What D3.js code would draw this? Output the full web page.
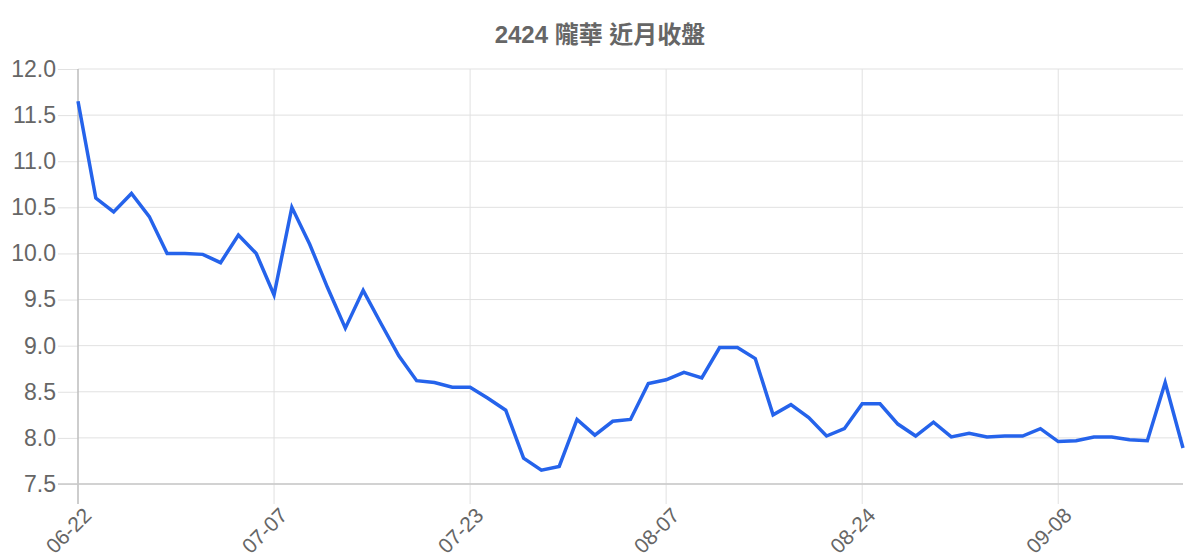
<!DOCTYPE html>
<html>
<head>
<meta charset="utf-8">
<script src="https://cdn.jsdelivr.net/npm/d3@7/dist/d3.min.js"></script>
<style>
  body { margin: 0; background: #fff; }
  svg { display: block; font-family: "Liberation Sans", Arial, "Noto Sans CJK TC", sans-serif; }
</style>
</head>
<body>
<div id="chart"></div>
<script>
var title = '2424 隴華 近月收盤';

var dates = [
  '06-22','06-23','06-24','06-25','06-26','06-29','06-30','07-01','07-02','07-03',
  '07-06','07-07','07-08','07-09','07-10','07-13','07-14','07-15','07-16','07-17',
  '07-20','07-21','07-23','07-24','07-27','07-28','07-29','07-30','07-31','08-03',
  '08-04','08-05','08-06','08-07','08-10','08-11','08-12','08-13','08-14','08-17',
  '08-18','08-19','08-20','08-21','08-24','08-25','08-26','08-27','08-28','08-31',
  '09-01','09-02','09-03','09-04','09-07','09-08','09-09','09-10','09-11','09-14',
  '09-15','09-16','09-17'
];

var closes = [
  11.65, 10.60, 10.45, 10.65, 10.40, 10.00, 10.00, 9.99, 9.90, 10.20,
  10.00, 9.55, 10.50, 10.10, 9.63, 9.19, 9.60, 9.24, 8.89, 8.62,
  8.60, 8.55, 8.55, 8.43, 8.30, 7.78, 7.65, 7.69, 8.20, 8.03,
  8.18, 8.20, 8.59, 8.63, 8.71, 8.65, 8.98, 8.98, 8.86, 8.25,
  8.36, 8.22, 8.02, 8.10, 8.37, 8.37, 8.15, 8.02, 8.17, 8.01,
  8.05, 8.01, 8.02, 8.02, 8.10, 7.96, 7.97, 8.01, 8.01, 7.98,
  7.97, 8.60, 7.89
];

var yTicks = [7.5, 8.0, 8.5, 9.0, 9.5, 10.0, 10.5, 11.0, 11.5, 12.0];
var xTickEvery = 11;

var widthCont = 1200, heightCont = 560;
var margin = {top: 69, right: 17, bottom: 76, left: 78};
var width = widthCont - margin.left - margin.right,
    height = heightCont - margin.top - margin.bottom;
var tickLen = 20;

var svg = d3.select('#chart').append('svg')
  .attr('width', widthCont)
  .attr('height', heightCont);

svg.append('text')
  .attr('x', widthCont / 2)
  .attr('y', 43)
  .attr('text-anchor', 'middle')
  .attr('fill', '#666')
  .style('font-size', '24px')
  .style('font-weight', 'bold')
  .text(title);

var g = svg.append('g')
  .attr('transform', 'translate(' + margin.left + ',' + margin.top + ')');

var x = d3.scalePoint()
  .domain(dates)
  .range([0, width]);

var y = d3.scaleLinear()
  .domain([7.5, 12.0])
  .range([height, 0]);

// horizontal grid + y labels
var yAxis = d3.axisLeft(y)
  .tickValues(yTicks)
  .tickSize(tickLen)
  .tickPadding(2)
  .tickFormat(d3.format('.1f'));

var yG = g.append('g').call(yAxis);
yG.select('.domain').remove();
yG.selectAll('.tick line').attr('stroke', '#e1e1e1').attr('stroke-width', 1);
yG.selectAll('.tick text').attr('fill', '#666').style('font-size', '23px');

g.append('g')
  .selectAll('line')
  .data(yTicks)
  .join('line')
  .attr('x1', 0).attr('x2', width)
  .attr('y1', function(d){ return y(d); })
  .attr('y2', function(d){ return y(d); })
  .attr('stroke', '#e1e1e1');

// vertical grid + x labels
var xTickDates = dates.filter(function(d, i){ return i % xTickEvery === 0; });

g.append('g')
  .selectAll('line')
  .data(xTickDates)
  .join('line')
  .attr('x1', function(d){ return x(d); })
  .attr('x2', function(d){ return x(d); })
  .attr('y1', 0)
  .attr('y2', height + tickLen)
  .attr('stroke', '#e1e1e1');

g.append('g')
  .selectAll('text')
  .data(xTickDates)
  .join('text')
  .attr('transform', function(d){ return 'translate(' + (x(d) + 4) + ',' + (height + 22) + ') rotate(-45)'; })
  .attr('text-anchor', 'end')
  .attr('dy', '0.72em')
  .attr('fill', '#666')
  .style('font-size', '21px')
  .text(function(d){ return d; });

// axis lines
g.append('line')
  .attr('x1', 0).attr('x2', 0)
  .attr('y1', 0).attr('y2', height + tickLen)
  .attr('stroke', '#aaa');

g.append('line')
  .attr('x1', -tickLen).attr('x2', width)
  .attr('y1', height).attr('y2', height)
  .attr('stroke', '#c8c8c8')
  .attr('stroke-width', 1.5);

// price line
var line = d3.line()
  .x(function(d, i){ return x(dates[i]); })
  .y(function(d){ return y(d); });

g.append('path')
  .datum(closes)
  .attr('d', line)
  .attr('fill', 'none')
  .attr('stroke', '#2563eb')
  .attr('stroke-width', 3.5)
  .attr('stroke-linejoin', 'miter');
</script>
</body>
</html>
